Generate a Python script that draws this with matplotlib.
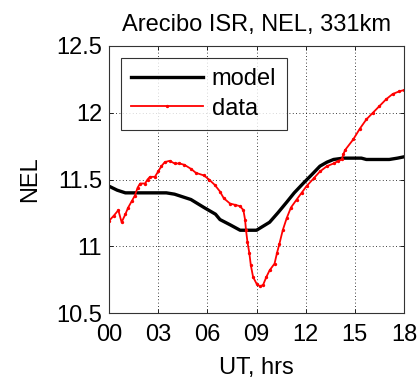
import matplotlib
matplotlib.use("Agg")
import matplotlib.pyplot as plt

plt.rcParams['font.family'] = ['Liberation Sans', 'DejaVu Sans']

# Model NEL versus UT hours
model_hrs = [0, 0.5, 1.0, 2.0, 2.75, 3.5, 4.0, 4.5, 5.0, 5.8, 6.5, 6.77, 7.4, 8.0,
             9.0, 9.4, 9.8, 10.3, 10.84, 11.3, 11.84, 12.4, 12.87, 13.3, 13.7,
             14.3, 14.9, 15.4, 15.7, 16.5, 17.1, 17.6, 18.0]
model_nel = [11.45, 11.42, 11.40, 11.40, 11.40, 11.40, 11.39, 11.37, 11.35, 11.29,
             11.24, 11.20, 11.16, 11.12, 11.12, 11.15, 11.18, 11.25, 11.33, 11.40,
             11.47, 11.54, 11.60, 11.63, 11.65, 11.66, 11.66, 11.66, 11.65, 11.65,
             11.65, 11.66, 11.67]

# Arecibo ISR measurements
data_hrs = [0, 0.3, 0.57, 0.77, 1.0, 1.17, 1.4, 1.58, 1.75, 1.9, 2.2, 2.35, 2.5, 2.8,
            3.0, 3.2, 3.4, 3.7, 4.0, 4.3, 4.6, 5.0, 5.3, 5.8, 6.1, 6.45, 6.77, 7.0,
            7.38, 7.7, 8.0, 8.2, 8.3, 8.36, 8.45, 8.56, 8.65, 8.79, 9.0, 9.2, 9.4,
            9.6, 9.8, 10.1, 10.25, 10.4, 10.6, 10.84, 11.1, 11.45, 11.75, 12.05,
            12.5, 12.87, 13.3, 13.7, 14.0, 14.2, 14.3, 14.4, 14.9, 15.3, 15.7, 16.1,
            16.5, 16.9, 17.3, 17.7, 18.0]
data_nel = [11.19, 11.23, 11.27, 11.18, 11.24, 11.29, 11.34, 11.38, 11.44, 11.47,
            11.47, 11.50, 11.52, 11.52, 11.56, 11.60, 11.63, 11.64, 11.62, 11.62,
            11.61, 11.58, 11.55, 11.53, 11.50, 11.46, 11.41, 11.36, 11.32, 11.31,
            11.30, 11.27, 11.20, 11.12, 11.03, 10.95, 10.86, 10.77, 10.72, 10.70,
            10.71, 10.77, 10.82, 10.87, 10.95, 11.02, 11.12, 11.21, 11.29, 11.35,
            11.40, 11.45, 11.51, 11.56, 11.60, 11.62, 11.64, 11.65, 11.69, 11.72,
            11.80, 11.88, 11.95, 12.00, 12.05, 12.10, 12.14, 12.16, 12.17]

xticks = [0, 3, 6, 9, 12, 15, 18]
xticklabels = ['00', '03', '06', '09', '12', '15', '18']
yticks = [10.5, 11, 11.5, 12, 12.5]
yticklabels = ['10.5', '11', '11.5', '12', '12.5']

FS = 17

fig = plt.figure(figsize=(4.2, 3.82), dpi=100)
ax = fig.add_axes([0.2595, 0.1806, 0.7025, 0.699])

ax.plot(model_hrs, model_nel, color='black', lw=2.4, label='model')
ax.plot(data_hrs, data_nel, color='red', lw=1.3, marker='.', markersize=2.8,
        label='data')

ax.set_xlim(0, 18)
ax.set_ylim(10.5, 12.5)
ax.set_xticks(xticks)
ax.set_xticklabels(xticklabels)
ax.set_yticks(yticks)
ax.set_yticklabels(yticklabels)
ax.tick_params(direction='in', top=True, right=True, labelsize=FS, length=3,
               width=0.6)
ax.tick_params(axis='x', pad=8)
ax.tick_params(axis='y', pad=5)
ax.grid(True, color='black', linestyle=(0, (1, 3)), linewidth=0.6)
for s in ax.spines.values():
    s.set_linewidth(0.8)
    s.set_color('#333333')

ax.set_title('Arecibo ISR, NEL, 331km', fontsize=FS, pad=11)
ax.set_xlabel('UT, hrs', fontsize=FS, labelpad=8)
ax.set_ylabel('NEL', fontsize=FS, labelpad=11)

leg = ax.legend(loc='upper left', fontsize=FS, frameon=True, fancybox=False,
                handlelength=3.05, borderaxespad=0.5, borderpad=0.45,
                labelspacing=0.3, handletextpad=0.35)
leg.get_frame().set_edgecolor('black')
leg.get_frame().set_linewidth(0.8)

fig.savefig('out.png', dpi=100, facecolor='white')
